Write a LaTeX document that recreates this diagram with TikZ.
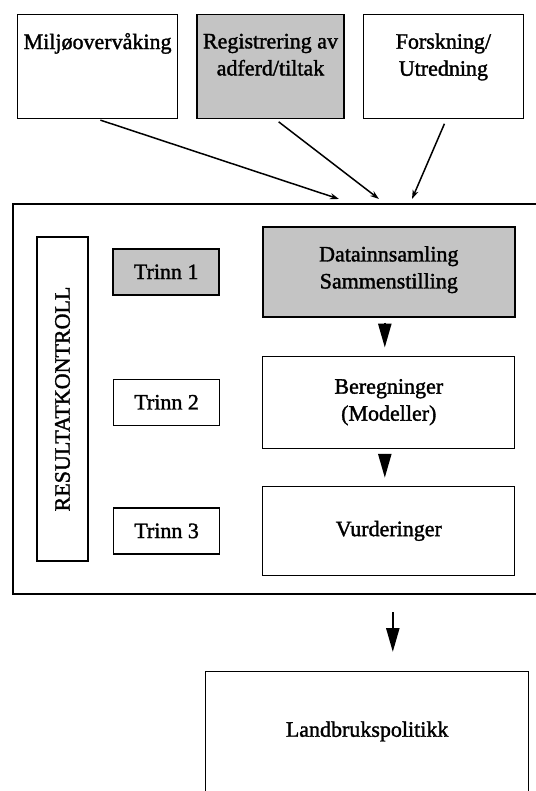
\documentclass[tikz,border=0pt]{standalone}
\usepackage{fontspec}
\setmainfont{Liberation Serif}
\newfontface\scanfont{Liberation Serif}[FakeBold=1.5]
\usetikzlibrary{arrows.meta, positioning, calc}
\definecolor{screengray}{RGB}{196,196,196}

\begin{document}
\begin{tikzpicture}[
    x=1pt, y=-1pt,
    node distance=18pt and 18pt,
    every node/.style={font=\scanfont\fontsize{22}{27}\selectfont},
    box/.style={rectangle, draw, line width=1.2pt, align=center, inner sep=0pt},
    shadebox/.style={box, fill=screengray, line width=1.6pt},
    topbox/.style={box, minimum height=104pt, text depth=24pt},
    trinnbox/.style={box, minimum width=106pt, minimum height=46pt},
    stagebox/.style={box, minimum width=252pt, minimum height=90pt},
    framebox/.style={rectangle, draw, line width=2.2pt, inner sep=0pt},
    feedarrow/.style={-{Stealth[length=9pt, width=6pt]}, line width=1.5pt},
    bigarrow/.style={-{Triangle[length=24pt, width=13pt]}, line width=2.4pt},
]
\useasboundingbox (0,0) rectangle (535,791);

% === SOURCES ===
\node[topbox, minimum width=160pt, anchor=north west] (milj) at (17,14) {Milj\o overv\aa king\\\mbox{}};
\node[topbox, shadebox, minimum width=147pt, right=18pt of milj] (regist) {Registrering av\\adferd/tiltak};
\node[topbox, minimum width=160pt, right=18pt of regist] (forsk) {Forskning/\\Utredning};

% === MAIN FRAME ===
\node[framebox, minimum width=533pt, minimum height=390pt, anchor=north west] (frame) at (12,203) {};
\coordinate (in1) at (339,199);
\coordinate (in2) at (379,199);
\coordinate (in3) at (412,199);

% Result control bar
\node[box, rotate=90, minimum width=324pt, minimum height=51pt] (kontroll) at (62.5,399) {RESULTATKONTROLL};

% Stages
\node[stagebox, shadebox, anchor=north west, text depth=9pt] (datainn) at (262,226) {Datainnsamling\\Sammenstilling};
\node[stagebox, minimum height=92pt, below=38pt of datainn] (bereg) {Beregninger\\(Modeller)};
\node[stagebox, minimum height=89pt, below=37pt of bereg] (vurd) {Vurderinger};

\node[trinnbox, shadebox, left=42pt of datainn] (trinn1) {Trinn 1};
\node[trinnbox, left=42pt of bereg] (trinn2) {Trinn 2};
\node[trinnbox, left=42pt of vurd] (trinn3) {Trinn 3};

% === OUTPUT ===
\node[box, minimum width=323pt, minimum height=135pt, anchor=north west, text depth=20pt] (landbruk) at (205,671) {Landbrukspolitikk};

% === ARROWS ===
\draw[feedarrow, shorten <=3pt] (milj.south) -- (in1);
\draw[feedarrow, shorten <=4pt] ($(regist.south)+(5,0)$) -- (in2);
\draw[feedarrow, shorten <=5pt] ($(forsk.south)+(3,0)$) -- (in3);

\draw[bigarrow, shorten <=5pt, shorten >=8pt] ($(datainn.south)+(-4,0)$) -- ($(bereg.north)+(-4,0)$);
\draw[bigarrow, shorten <=5pt, shorten >=8pt] ($(bereg.south)+(-4,0)$) -- ($(vurd.north)+(-4,0)$);

\draw[bigarrow, shorten <=17pt, shorten >=19pt] ($(vurd.south |- frame.south)+(4,0)$) -- ($(vurd.south |- landbruk.north)+(4,0)$);

\end{tikzpicture}
\end{document}
